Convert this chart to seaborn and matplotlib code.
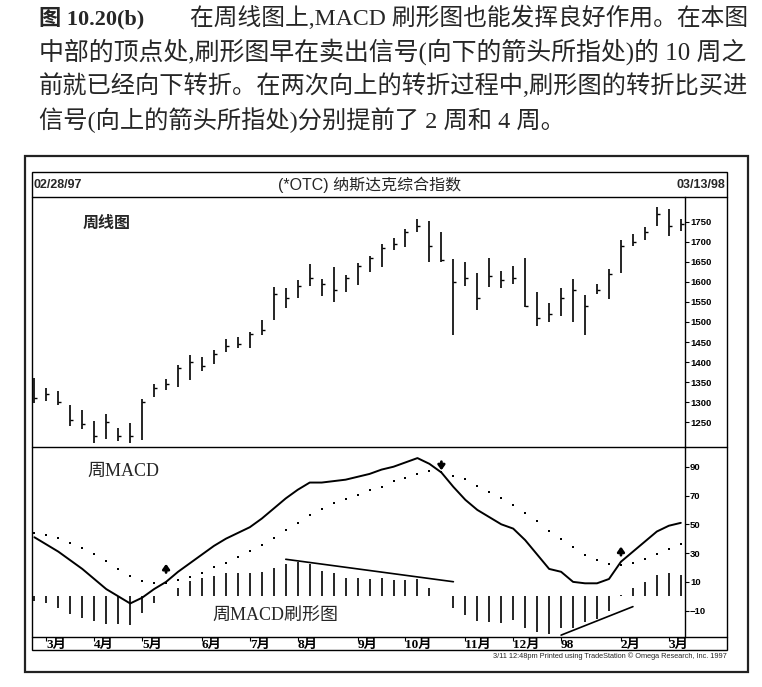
import numpy as np
import pandas as pd
import seaborn as sns
import matplotlib.pyplot as plt
from matplotlib.patches import Rectangle
from matplotlib.lines import Line2D

# weekly Nasdaq composite bars, 02/28/97 .. 03/13/98
weeks = np.arange(55)
highs = [1359, 1336, 1327, 1294, 1280, 1253, 1270, 1236, 1247, 1309,
         1346, 1357, 1393, 1417, 1413, 1429, 1458, 1462, 1474, 1506,
         1587, 1584, 1605, 1645, 1607, 1637, 1617, 1647, 1665, 1695,
         1709, 1732, 1757, 1752, 1724, 1657, 1650, 1622, 1659, 1628,
         1641, 1659, 1574, 1548, 1584, 1607, 1568, 1595, 1632, 1705,
         1719, 1736, 1788, 1783, 1757]
lows = [1299, 1302, 1292, 1241, 1232, 1197, 1209, 1203, 1197, 1205,
        1313, 1330, 1338, 1354, 1377, 1396, 1425, 1436, 1436, 1468,
        1506, 1535, 1560, 1591, 1566, 1549, 1574, 1593, 1626, 1638,
        1680, 1686, 1724, 1650, 1649, 1468, 1591, 1531, 1587, 1584,
        1595, 1537, 1490, 1500, 1516, 1500, 1468, 1570, 1558, 1622,
        1690, 1705, 1740, 1714, 1728]
closes = [1310, 1320, 1300, 1255, 1245, 1215, 1250, 1215, 1215, 1300,
          1335, 1345, 1385, 1400, 1390, 1420, 1440, 1445, 1470, 1480,
          1570, 1560, 1590, 1610, 1595, 1580, 1610, 1640, 1660, 1685,
          1695, 1725, 1740, 1690, 1655, 1600, 1610, 1560, 1615, 1605,
          1610, 1540, 1510, 1520, 1560, 1580, 1540, 1580, 1620, 1690,
          1700, 1725, 1770, 1740, 1745]

# weekly MACD, signal line and histogram
macd = [41, 36, 31, 25, 19, 12, 5, 0, -5, -1,
        5, 10, 17, 23, 29, 35, 40, 44, 48, 54,
        61, 68, 74, 79, 79, 80, 81, 83, 85, 88,
        90, 93, 96, 92, 86, 76, 67, 60, 55, 50,
        47, 39, 29, 19, 17, 10, 9, 9, 12, 24,
        31, 38, 45, 49, 51]
signal = [44, 42.7, 40.4, 37, 33.5, 29.3, 24.2, 19.2, 14.3, 10.8,
          9.2, 9.5, 11, 13.5, 16.5, 20, 23.4, 27.3, 31.3, 35.9,
          40.5, 45.8, 51.1, 56.7, 60.8, 65, 67.7, 70.7, 73.5, 75.8,
          79.8, 82.1, 84.9, 86.7, 86, 83.7, 81.4, 76.3, 72.2, 68.2,
          63.6, 57.8, 52, 45.6, 39.8, 34, 29, 25, 22.5, 22,
          23.4, 26.2, 29.7, 33.1, 36.6]
hist = [-3, -4.9, -8.3, -12.5, -15.3, -17.2, -19.5, -19.5, -20, -11.8,
        -4.9, 0.5, 6, 10.6, 12.5, 14.1, 16, 16, 16.5, 17.1,
        19.9, 22.2, 23.6, 22.2, 17.6, 16, 12.9, 12.5, 12, 12.9,
        11.3, 11.3, 11.8, 6, 0.3, -8.3, -13, -17.2, -17.6, -18.3,
        -16.5, -21.8, -24.6, -26.4, -22.2, -21.8, -17.6, -15.8, -10.2, 0.8,
        5.5, 10, 14.8, 16, 14.8]

month_weeks = [1, 5, 9, 14, 18, 22, 27, 31, 36, 40, 44, 49, 53]
month_labels = ['3月', '4月', '5月', '6月', '7月', '8月', '9月', '10月',
                '11月', '12月', '98', '2月', '3月']
price_ticks = [1250, 1300, 1350, 1400, 1450, 1500, 1550, 1600, 1650, 1700, 1750]
macd_ticks = [90, 70, 50, 30, 10, -10]

# hand drawn trend lines on the histogram
top_line_weeks = [21, 35]
top_line_vals = [25.7, 10.1]
bottom_line_weeks = [44, 50]
bottom_line_vals = [-27, -7.2]

# crossover signal arrows (tail value, tip value)
arrow_weeks = [11, 34, 49]
arrow_tails = [16.5, 93.5, 28.5]
arrow_tips = [22.5, 87.5, 34.5]

caption = [
    '中部的顶点处,刷形图早在卖出信号(向下的箭头所指处)的 10 周之',
    '前就已经向下转折。在两次向上的转折过程中,刷形图的转折比买进',
    '信号(向上的箭头所指处)分别提前了 2 周和 4 周。',
]

df = pd.DataFrame({'week': weeks, 'high': highs, 'low': lows, 'close': closes,
                   'macd': macd, 'signal': signal, 'hist': hist})

sns.set_style('white')
plt.rcParams['font.family'] = ['Liberation Sans', 'Noto Sans CJK SC', 'DejaVu Sans']
serif_cjk = ['Liberation Serif', 'Noto Sans CJK SC', 'DejaVu Sans']
sans_cjk = ['Liberation Sans', 'Noto Sans CJK SC', 'DejaVu Sans']

W, H = 762, 687
fig = plt.figure(figsize=(W / 100, H / 100), dpi=100)


def box(x0, y0, x1, y1):
    return [x0 / W, 1 - y1 / H, (x1 - x0) / W, (y1 - y0) / H]


def fx(px):
    return px / W


def fy(py):
    return 1 - py / H


# caption, each line stretched to the column width
renderer = fig.canvas.get_renderer()


def fit_text(x0, x1, y, s, **kw):
    t = fig.text(fx(x0), fy(y), s, va='center', ha='left', fontsize=14,
                 family=serif_cjk, **kw)
    w = t.get_window_extent(renderer).width
    t.set_fontsize(14 * (x1 - x0) / w)
    return t.get_fontsize()


fig.text(fx(39), fy(18), '图 10.20(b)', va='center', ha='left', fontsize=16,
         family=serif_cjk, fontweight='bold')
sizes = [fit_text(190, 750, 18, '在周线图上,MACD 刷形图也能发挥良好作用。在本图')]
sizes.append(fit_text(39, 750, 52, caption[0]))
sizes.append(fit_text(39, 750, 86, caption[1]))
fig.text(fx(39), fy(120), caption[2], va='center', ha='left',
         fontsize=np.mean(sizes), family=serif_cjk)

# frames
fig.add_artist(Rectangle((fx(25), fy(672)), (748 - 25) / W, (672 - 156) / H,
                         transform=fig.transFigure, fill=False, lw=1.6, ec='#222222'))
fig.add_artist(Rectangle((fx(32), fy(650)), (727 - 32) / W, (650 - 172) / H,
                         transform=fig.transFigure, fill=False, lw=1.0, ec='k'))
for yy in [197, 447, 637]:
    fig.add_artist(Line2D([fx(32), fx(727)], [fy(yy), fy(yy)],
                          transform=fig.transFigure, lw=1.0, color='k'))

# header row
fig.text(fx(34), fy(185), '02/28/97', va='center', ha='left', fontsize=9,
         fontweight='bold', family=sans_cjk)
fig.text(fx(370), fy(185), '(*OTC) 纳斯达克综合指数', va='center', ha='center',
         fontsize=11.5, family=sans_cjk)
fig.text(fx(725), fy(185), '03/13/98', va='center', ha='right', fontsize=9,
         fontweight='bold', family=sans_cjk)
fig.text(fx(727), fy(656), '3/11 12:48pm Printed using TradeStation © Omega Research, Inc. 1997',
         va='center', ha='right', fontsize=5.3, family=sans_cjk)

ax_p = fig.add_axes(box(32, 197, 685, 447))
ax_m = fig.add_axes(box(32, 447, 685, 637), sharex=ax_p)

# price bars
ax_p.vlines(df['week'], df['low'], df['high'], color='k', lw=1.2)
ax_p.plot(df['week'], df['close'], ls='none', marker=1, ms=2.5, mew=1.0, color='k')
ax_p.set_ylim(1188, 1812)
ax_p.set_yticks(price_ticks)
ax_p.text(0.078, 0.893, '周线图', transform=ax_p.transAxes, fontsize=11.5,
          fontweight='bold', family=sans_cjk, va='center')

# MACD panel
ax_m.vlines(df['week'], 0, df['hist'], color='k', lw=1.2)
sns.lineplot(data=df, x='week', y='macd', ax=ax_m, color='k', lw=1.4)
sns.scatterplot(data=df, x='week', y='signal', ax=ax_m, color='k', s=2.5,
                marker='s', linewidth=0)
ax_m.plot(top_line_weeks, top_line_vals, color='k', lw=1.2)
ax_m.plot(bottom_line_weeks, bottom_line_vals, color='k', lw=1.2)
for w, t0, t1 in zip(arrow_weeks, arrow_tails, arrow_tips):
    ax_m.annotate('', xy=(w, t1), xytext=(w, t0),
                  arrowprops=dict(arrowstyle='-|>,head_width=0.25,head_length=0.35',
                                  color='k', lw=2.0, mutation_scale=8,
                                  shrinkA=0, shrinkB=0))
ax_m.set_ylim(-28.3, 103.7)
ax_m.set_yticks(macd_ticks)
ax_m.text(0.085, 0.87, '周MACD', transform=ax_m.transAxes, fontsize=13,
          family=serif_cjk, va='center')
ax_m.text(0.276, 0.115, '周MACD刷形图', transform=ax_m.transAxes, fontsize=13,
          family=serif_cjk, va='center')

ax_p.set_xlim(-0.2, 54.35)
ax_m.set_xticks(month_weeks)
ax_m.set_xticklabels(month_labels)
for lab in ax_m.get_xticklabels():
    lab.set_ha('left')
    lab.set_family(serif_cjk)
    lab.set_fontweight('bold')

for ax in [ax_p, ax_m]:
    ax.set_xlabel('')
    ax.set_ylabel('')
    ax.yaxis.tick_right()
    ax.tick_params(axis='y', direction='out', length=3, width=0.8, pad=0.5,
                   labelsize=6.8, colors='k')
    for lab in ax.get_yticklabels():
        lab.set_fontweight('bold')
    for side in ['left', 'top', 'bottom']:
        ax.spines[side].set_visible(False)
    ax.spines['right'].set_color('k')
    ax.spines['right'].set_linewidth(1.0)
    ax.set_facecolor('none')

ax_p.tick_params(axis='x', bottom=False, labelbottom=False)
ax_m.tick_params(axis='x', bottom=True, direction='out', length=3, width=0.8,
                 pad=-1.8, labelsize=9.5, colors='k')

fig.savefig('out.png', dpi=100)
